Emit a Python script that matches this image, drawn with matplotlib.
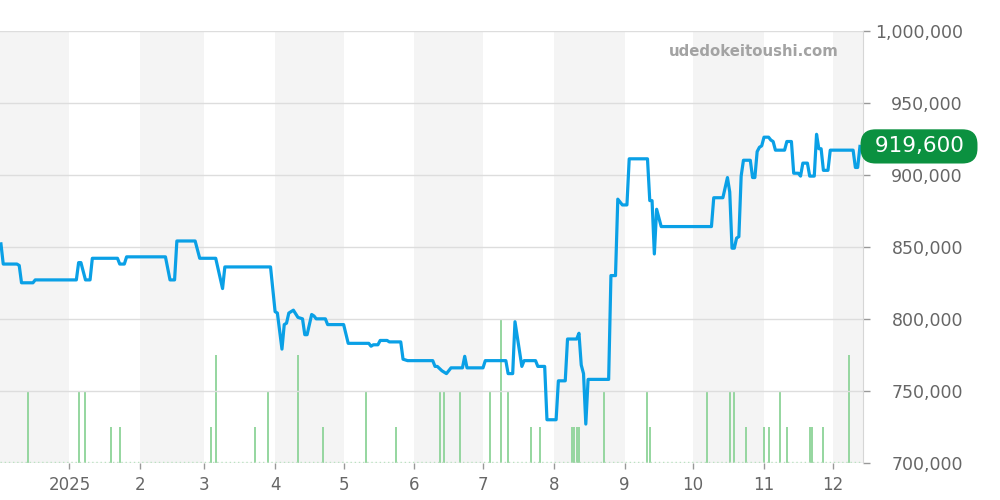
import numpy as np
import matplotlib
matplotlib.use("Agg")
import matplotlib.pyplot as plt
from matplotlib.ticker import FuncFormatter

# price history
price_dates = [
    "2024-12-02", "2024-12-03", "2024-12-09", "2024-12-10", "2024-12-11", "2024-12-16", "2024-12-17",
    "2025-01-04", "2025-01-05", "2025-01-06", "2025-01-08", "2025-01-10", "2025-01-11", "2025-01-22",
    "2025-01-23", "2025-01-25", "2025-01-26", "2025-02-12", "2025-02-14", "2025-02-16", "2025-02-17",
    "2025-02-25", "2025-02-27", "2025-03-06", "2025-03-07", "2025-03-09", "2025-03-10", "2025-03-30",
    "2025-04-01", "2025-04-02", "2025-04-04", "2025-04-05", "2025-04-06", "2025-04-07", "2025-04-09",
    "2025-04-11", "2025-04-13", "2025-04-14", "2025-04-15", "2025-04-17", "2025-04-18", "2025-04-19",
    "2025-04-23", "2025-04-24", "2025-05-01", "2025-05-03", "2025-05-12", "2025-05-13", "2025-05-14",
    "2025-05-16", "2025-05-17", "2025-05-20", "2025-05-21", "2025-05-26", "2025-05-27", "2025-05-29",
    "2025-06-09", "2025-06-10", "2025-06-11", "2025-06-13", "2025-06-15", "2025-06-17", "2025-06-22",
    "2025-06-23", "2025-06-24", "2025-07-01", "2025-07-02", "2025-07-11", "2025-07-12", "2025-07-14",
    "2025-07-15", "2025-07-18", "2025-07-19", "2025-07-24", "2025-07-25", "2025-07-28", "2025-07-29",
    "2025-08-02", "2025-08-03", "2025-08-06", "2025-08-07", "2025-08-11", "2025-08-12", "2025-08-13",
    "2025-08-14", "2025-08-15", "2025-08-16", "2025-08-25", "2025-08-26", "2025-08-28", "2025-08-29",
    "2025-08-31", "2025-09-02", "2025-09-03", "2025-09-11", "2025-09-12", "2025-09-13", "2025-09-14",
    "2025-09-15", "2025-09-17", "2025-10-09", "2025-10-10", "2025-10-14", "2025-10-16", "2025-10-17",
    "2025-10-18", "2025-10-19", "2025-10-20", "2025-10-21", "2025-10-22", "2025-10-23", "2025-10-26",
    "2025-10-27", "2025-10-28", "2025-10-29", "2025-10-30", "2025-10-31", "2025-11-01", "2025-11-03",
    "2025-11-04", "2025-11-05", "2025-11-06", "2025-11-10", "2025-11-11", "2025-11-13", "2025-11-14",
    "2025-11-16", "2025-11-17", "2025-11-18", "2025-11-20", "2025-11-21", "2025-11-23", "2025-11-24",
    "2025-11-25", "2025-11-26", "2025-11-27", "2025-11-29", "2025-11-30", "2025-12-10", "2025-12-11",
    "2025-12-12", "2025-12-13",
]
prices = [
    852000, 838000, 838000, 837000, 825000, 825000, 827000,
    827000, 839000, 839000, 827000, 827000, 842000, 842000,
    838000, 838000, 843000, 843000, 827000, 827000, 854000,
    854000, 842000, 842000, 835000, 821000, 836000, 836000,
    805000, 804000, 779000, 796000, 797000, 804000, 806000,
    801000, 800000, 789000, 789000, 803000, 802000, 800000,
    800000, 796000, 796000, 783000, 783000, 781000, 782000,
    782000, 785000, 785000, 784000, 784000, 772000, 771000,
    771000, 767000, 767000, 764000, 762000, 766000, 766000,
    774000, 766000, 766000, 771000, 771000, 762000, 762000,
    798000, 767000, 771000, 771000, 767000, 767000, 730000,
    730000, 757000, 757000, 786000, 786000, 790000, 768000,
    762000, 727000, 758000, 758000, 830000, 830000, 883000,
    879000, 879000, 911000, 911000, 882000, 882000, 845000,
    876000, 864000, 864000, 884000, 884000, 898000, 888000,
    849000, 849000, 856000, 857000, 899000, 910000, 910000,
    898000, 898000, 916000, 919000, 920000, 926000, 926000,
    924000, 923000, 917000, 917000, 923000, 923000, 901000,
    901000, 899000, 908000, 908000, 899000, 899000, 928000,
    918000, 918000, 903000, 903000, 917000, 917000, 905000,
    905000, 919600,
]

# number of trades per day (green bars)
vol_dates = [
    "2024-12-14", "2025-01-05", "2025-01-08", "2025-01-19", "2025-01-23", "2025-03-04", "2025-03-06",
    "2025-03-23", "2025-03-29", "2025-04-11", "2025-04-22", "2025-05-11", "2025-05-24", "2025-06-12",
    "2025-06-14", "2025-06-21", "2025-07-04", "2025-07-09", "2025-07-12", "2025-07-22", "2025-07-26",
    "2025-08-09", "2025-08-10", "2025-08-11", "2025-08-12", "2025-08-23", "2025-09-11", "2025-09-12",
    "2025-10-07", "2025-10-17", "2025-10-19", "2025-10-24", "2025-11-01", "2025-11-03", "2025-11-08",
    "2025-11-11", "2025-11-21", "2025-11-22", "2025-11-27", "2025-12-08",
]
vol_counts = [2, 2, 2, 1, 1, 1, 3, 1, 2, 3, 1, 2, 1, 2, 2, 2, 2, 4, 2, 1, 1,
              1, 1, 1, 1, 2, 2, 1, 2, 2, 2, 1, 1, 1, 2, 1, 1, 1, 1, 3]

month_starts = ["2025-01-01", "2025-02-01", "2025-03-01", "2025-04-01", "2025-05-01", "2025-06-01",
                "2025-07-01", "2025-08-01", "2025-09-01", "2025-10-01", "2025-11-01", "2025-12-01"]
month_labels = ["2025", "2", "3", "4", "5", "6", "7", "8", "9", "10", "11", "12"]
shaded_months = [("2024-12-01", "2025-01-01"), ("2025-02-01", "2025-03-01"), ("2025-04-01", "2025-05-01"),
                 ("2025-06-01", "2025-07-01"), ("2025-08-01", "2025-09-01"), ("2025-10-01", "2025-11-01"),
                 ("2025-12-01", "2026-01-01")]
price_ticks = [700000, 750000, 800000, 850000, 900000, 950000, 1000000]
last_price = prices[-1]

px = np.array(price_dates, dtype="datetime64[D]")
vx = np.array(vol_dates, dtype="datetime64[D]")

fig = plt.figure(figsize=(10, 5), dpi=100)
vol = fig.add_axes([0, 0.074, 0.863, 0.865])
ax = vol.twinx()
ax.set_zorder(vol.get_zorder() + 1)
ax.patch.set_visible(False)

# alternating month bands + trade bars (bottom layer)
for a, b in shaded_months:
    vol.axvspan(np.datetime64(a), np.datetime64(b), color="#f4f4f4", lw=0)
vol.vlines(vx, 0, vol_counts, color="#95d69f", lw=1.4)
vol.axhline(0.04, color="#b5e2bc", lw=1, ls=(0, (1, 2)))
vol.set_ylim(0, 12)
vol.set_yticks([])
for s in vol.spines.values():
    s.set_visible(False)

vol.set_xlim(np.datetime64("2024-12-01T14:00"), np.datetime64("2025-12-14T08:00"))
vol.set_xticks(np.array(month_starts, dtype="datetime64[D]"))
vol.set_xticklabels(month_labels)
vol.tick_params(axis="x", length=4, width=1, color="#999999", labelcolor="#666666",
                labelsize=12, pad=5)

# price line
ax.plot(px, prices, color="#0aa0e6", lw=2.3, solid_joinstyle="round")
ax.set_ylim(700000, 1000000)
ax.set_yticks(price_ticks)
ax.yaxis.set_major_formatter(FuncFormatter(lambda v, p: f"{int(v):,}"))
ax.yaxis.grid(True, color="#dddddd", lw=1)
ax.tick_params(axis="y", length=5, width=1, color="#999999", labelcolor="#666666",
               labelsize=12.5, pad=67)
for lbl in ax.get_yticklabels():
    lbl.set_horizontalalignment("right")
for name, s in ax.spines.items():
    s.set_visible(name == "right")
ax.spines["right"].set_color("#d6d6d6")

# latest price badge
ax.text(1.0649, last_price, f" {last_price:,} ", transform=ax.get_yaxis_transform(),
        ha="center", va="center", fontsize=15.5, color="white", clip_on=False, zorder=10,
        bbox=dict(boxstyle="round,pad=0.33,rounding_size=0.7", fc="#0b9140", ec="none"))

fig.text(0.754, 0.896, "udedokeitoushi.com", ha="center", va="center",
         fontsize=10.7, fontweight="bold", color="#a3a3a3")

fig.savefig("out.png", dpi=100)
